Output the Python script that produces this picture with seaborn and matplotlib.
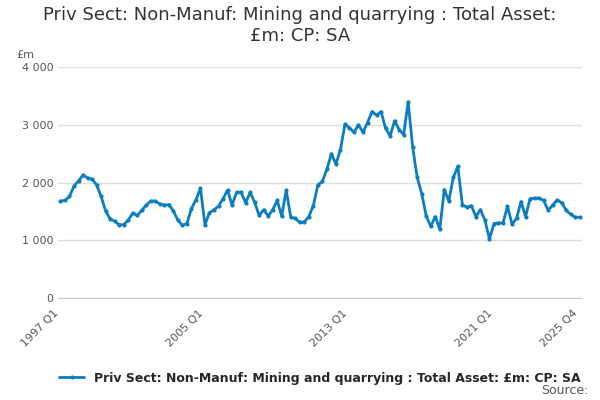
import matplotlib
matplotlib.use("Agg")
import matplotlib.pyplot as plt
import seaborn as sns
import pandas as pd
import numpy as np

values = [1680,1690,1760,1940, 2030,2130,2080,2060, 1960,1760,1510,1370, 1330,1270,1270,1350,
          1470,1430,1520,1610, 1680,1680,1630,1610, 1620,1510,1350,1260, 1290,1550,1700,1900,
          1270,1480,1530,1590, 1720,1870,1610,1830, 1830,1650,1830,1660, 1430,1530,1420,1530,
          1690,1420,1870,1400, 1380,1310,1320,1410, 1600,1960,2020,2230, 2500,2320,2570,3010,
          2950,2870,3000,2870, 3040,3230,3170,3230, 2940,2810,3070,2920, 2830,3400,2610,2090,
          1810,1420,1240,1410, 1190,1880,1680,2090, 2280,1620,1570,1600, 1410,1530,1350,1020,
          1290,1300,1300,1590, 1280,1380,1670,1410, 1720,1730,1730,1690, 1520,1610,1700,1650,
          1520,1450,1400,1400]
quarters = [f"{y} Q{q}" for y in range(1997, 2026) for q in range(1, 5)]
tick_labels = ["1997 Q1", "2005 Q1", "2013 Q1", "2021 Q1", "2025 Q4"]
series = "Priv Sect: Non-Manuf: Mining and quarrying : Total Asset: £m: CP: SA"

df = pd.DataFrame({"idx": np.arange(len(values)), "value": values, "series": series})

sns.set_style("white")
fig, ax = plt.subplots(figsize=(6, 4), dpi=100)
fig.subplots_adjust(left=0.097, right=0.97, top=0.832, bottom=0.255)
color = "#0b7ec1"
sns.lineplot(data=df, x="idx", y="value", hue="series", palette=[color], marker="o",
             markersize=3, markeredgewidth=0, linewidth=2, ax=ax)
ax.set_ylim(0, 4000)
ax.set_xlim(-0.5, len(values) - 0.5)
ax.set_yticks([0, 1000, 2000, 3000, 4000])
ax.set_yticklabels(["0", "1 000", "2 000", "3 000", "4 000"], fontsize=8, color="#555555")
ax.set_xticks([quarters.index(t) for t in tick_labels])
ax.set_xticklabels(tick_labels, rotation=45, ha="right", fontsize=8, color="#555555")
ax.grid(axis="y", color="#dddddd", linewidth=1)
for s in ["top", "right", "left"]:
    ax.spines[s].set_visible(False)
ax.spines["bottom"].set_color("#cccccc")
ax.tick_params(axis="x", length=4, color="#cccccc")
ax.tick_params(axis="y", length=0)
ax.set_xlabel("")
ax.set_ylabel("")
ax.text(-0.08, 1.04, "£m", transform=ax.transAxes, fontsize=8, color="#555555")
fig.suptitle("Priv Sect: Non-Manuf: Mining and quarrying : Total Asset:\n£m: CP: SA",
             fontsize=13, y=0.985, color="#333333")
ax.legend(loc="upper center", bbox_to_anchor=(0.5, -0.27), frameon=False, fontsize=9,
          handlelength=2, prop={"weight": "bold", "size": 9})
fig.text(0.98, 0.015, "Source:", ha="right", fontsize=9, color="#555555")
fig.savefig("out.png", dpi=100)
